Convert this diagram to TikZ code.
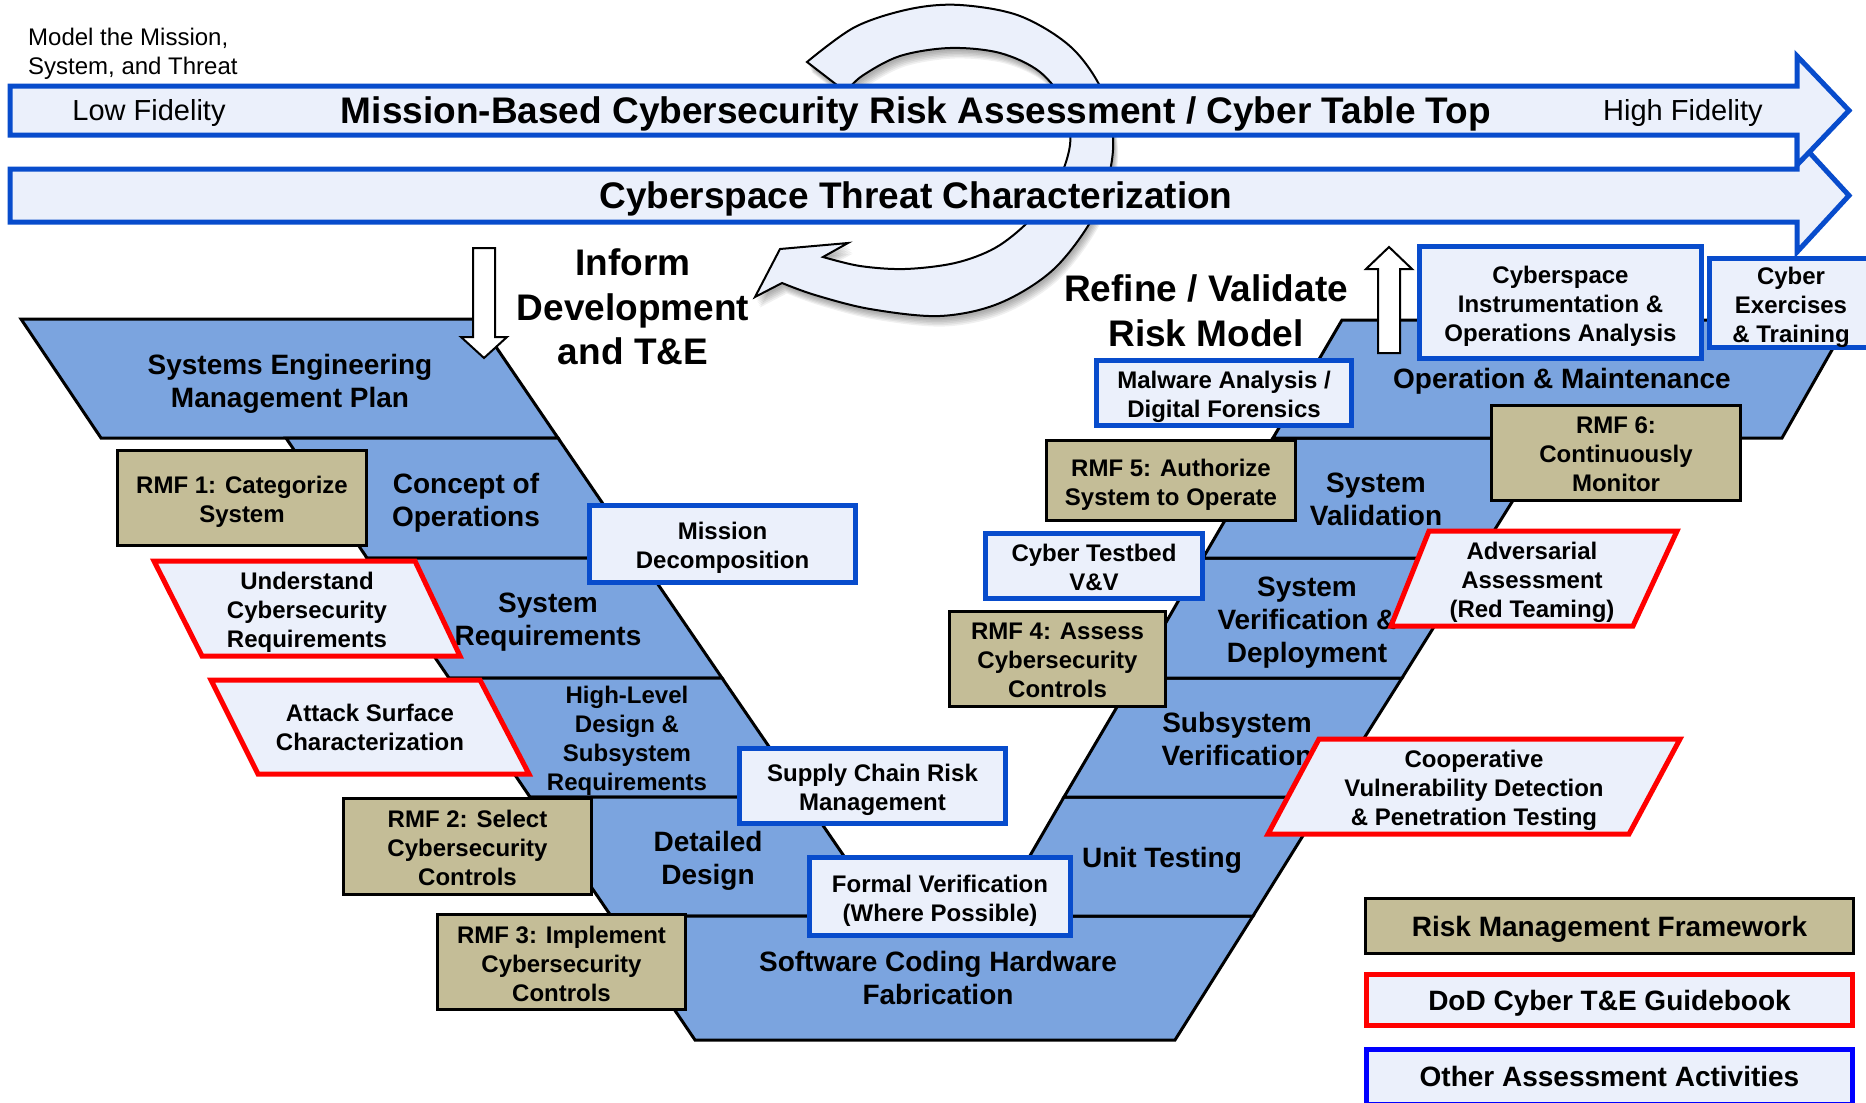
\documentclass[tikz,border=0pt]{standalone}
\usepackage{fontspec}
\setmainfont{Liberation Sans}
\newcommand\fsz[2]{\fontsize{#1}{#2}\selectfont}
\definecolor{layerblue}{RGB}{123,164,223}
\definecolor{boxfill}{RGB}{235,240,251}
\definecolor{bluebd}{RGB}{8,76,204}
\definecolor{tanfill}{RGB}{196,189,151}
\definecolor{redbd}{RGB}{255,0,0}
\definecolor{purebd}{RGB}{0,0,255}
\tikzset{
  layer/.style={fill=layerblue, draw=black, line width=3pt, line join=miter},
  lbl/.style={font=\bfseries\fsz{28}{33}, align=center, inner sep=0pt},
  smalllbl/.style={font=\bfseries\fsz{24}{29}, align=center, inner sep=0pt},
  rmfbox/.style={draw=black, fill=tanfill, line width=3pt, inner sep=0pt},
  bluebox/.style={draw=bluebd, fill=boxfill, line width=5pt, inner sep=0pt},
  redpar/.style={draw=redbd, fill=boxfill, line width=5pt, line join=miter},
  bar/.style={draw=bluebd, fill=boxfill, line width=5pt, line join=miter},
  hollow/.style={draw=black, fill=white, line width=2pt, line join=miter},
  bigtxt/.style={font=\bfseries\fsz{37}{44.5}, align=center, inner sep=0pt},
  bartxt/.style={font=\bfseries\fsz{37}{40}, inner sep=0pt},
  fidtxt/.style={font=\fsz{29}{33}, inner sep=0pt},
  legendbox/.style={line width=5pt, fill=boxfill, inner sep=0pt, minimum width=486pt},
  legendtxt/.style={font=\bfseries\fsz{28}{33}, inner sep=0pt},
  intext/.style={smalllbl, yshift=-4pt},
  intextflat/.style={smalllbl, yshift=-1.5pt},
}
% the circular arrow that loops behind the two bars
\newcommand\ringshape[1]{\path[#1] (807,62) -- plot[smooth,tension=0.55] coordinates {(807,62) (855,27) (910,9) (960,5) (1020,16) (1072,48) (1104,95) (1113,150) (1097,210) (1055,268) (1000,303) (940,316) (870,309) (815,295) (782,283)}
  -- (755,297) -- (780,249) -- (848,243) -- (823,257)
  -- plot[smooth,tension=0.55] coordinates {(823,257) (860,266) (905,269) (955,263) (995,248) (1028,222) (1055,188) (1070,145) (1065,105) (1040,72) (1000,53) (950,48) (900,56) (862,76) (846,92)} -- cycle;}
\begin{document}
\begin{tikzpicture}[x=1pt,y=-1pt]
\fill[white] (0,0) rectangle (1866,1103);
\useasboundingbox (0,0) rectangle (1866,1103);
\clip (0,0) rectangle (1866,1103);

% soft shadow and body of the circular arrow
\foreach \d in {2,3,4,5,6,7}{\ringshape{fill=black, opacity=0.06, shift={(\d*0.7,\d*1.5)}}}
\ringshape{fill=boxfill, draw=black, line width=2pt}

% the two long arrows
\path[bar] (10,169) -- (1797,169) -- (1797,139) -- (1849,195.5) -- (1797,252) -- (1797,222) -- (10,222) -- cycle;
\node[bartxt] (threat) at (916,198.5) {Cyberspace Threat Characterization};
\path[bar] (10,86) -- (1797,86) -- (1797,56) -- (1849,110.5) -- (1797,165) -- (1797,135) -- (10,135) -- cycle;
\node[fidtxt] (lowfid) at (149,112.5) {Low Fidelity};
\node[bartxt] (mission) at (916,113.5) {Mission-Based Cybersecurity Risk Assessment / Cyber Table Top};
\node[fidtxt] (highfid) at (1683,113.5) {High Fidelity};

\node[font=\fsz{24}{29.5}, align=left, inner sep=0pt, anchor=west] (model) at (28,54) {Model the Mission,\\System, and Threat};

% left arm of the V
\path[layer] (21,319) -- (477,319) -- (558,438) -- (101,438) -- cycle;
\path[layer] (286,438) -- (558,438) -- (640,558) -- (367,558) -- cycle;
\path[layer] (367,558) -- (640,558) -- (722,678) -- (449,678) -- cycle;
\path[layer] (449,678) -- (722,678) -- (803.5,797) -- (530,797) -- cycle;
\path[layer] (530,797) -- (803.5,797) -- (885,916) -- (611,916) -- cycle;
% bottom of the V
\path[layer] (611,916) -- (1253,916) -- (1175,1040) -- (695,1040) -- cycle;
% right arm of the V
\path[layer] (1064,797) -- (1327,797) -- (1253,916) -- (995,916) -- cycle;
\path[layer] (1134,678) -- (1402,678) -- (1327,797) -- (1064,797) -- cycle;
\path[layer] (1203,558) -- (1477,558) -- (1402,678) -- (1134,678) -- cycle;
\path[layer] (1273,438) -- (1552,438) -- (1477,558) -- (1203,558) -- cycle;
\path[layer] (1342,320) -- (1849,320) -- (1782,438) -- (1273,438) -- cycle;

% phase labels
\node[lbl] (semp) at (290,383.5) {Systems Engineering\\Management Plan};
\node[lbl] (conops) at (466,502.5) {Concept of\\Operations};
\node[lbl] (sysreq) at (548,622.5) {System\\Requirements};
\node[smalllbl] (hld) at (627,741) {High-Level\\Design \&\\Subsystem\\Requirements};
\node[lbl] (detdes) at (708,861) {Detailed\\Design};
\node[lbl] (coding) at (938,978) {Software Coding Hardware\\Fabrication};
\node[lbl] (unit) at (1162,860.5) {Unit Testing};
\node[lbl] (subver) at (1237,738.5) {Subsystem\\Verification};
\node[lbl] (sysver) at (1307,622.5) {System\\Verification \&\\Deployment};
\node[lbl] (sysval) at (1376,499.5) {System\\Validation};
\node[lbl] (om) at (1562,381.5) {Operation \& Maintenance};

% hollow arrows
\path[hollow] (473,248) -- (495,248) -- (495,337) -- (507,337) -- (484,358) -- (461,337) -- (473,337) -- cycle;
\path[hollow] (1378,353) -- (1378,269) -- (1366,269) -- (1389,247) -- (1412,269) -- (1400,269) -- (1400,353) -- cycle;

\node[bigtxt] (inform) at (633,307) {Inform\\Development\\and T\&E};
\node[bigtxt] (refine) at (1206,311) {Refine / Validate\\Risk Model};

% Risk Management Framework steps
\node[rmfbox, minimum width=249pt, minimum height=95pt] (rmf1) at (242,498) {};
\node[intext] (rmf1t) at (rmf1.center) {RMF 1: Categorize\\System};
\node[rmfbox, minimum width=248pt, minimum height=96pt] (rmf2) at (467.5,846.5) {};
\node[intextflat] (rmf2t) at (rmf2.center) {RMF 2: Select\\Cybersecurity\\Controls};
\node[rmfbox, minimum width=248pt, minimum height=95pt] (rmf3) at (561.5,962) {};
\node[intextflat] (rmf3t) at (rmf3.center) {RMF 3: Implement\\Cybersecurity\\Controls};
\node[rmfbox, minimum width=216pt, minimum height=95pt] (rmf4) at (1057.5,659) {};
\node[intextflat] (rmf4t) at (rmf4.center) {RMF 4: Assess\\Cybersecurity\\Controls};
\node[rmfbox, minimum width=249pt, minimum height=80pt] (rmf5) at (1171,480.5) {};
\node[intext] (rmf5t) at (rmf5.center) {RMF 5: Authorize\\System to Operate};
\node[rmfbox, minimum width=249pt, minimum height=95pt] (rmf6) at (1616,453) {};
\node[intextflat] (rmf6t) at (rmf6.center) {RMF 6:\\Continuously\\Monitor};

% other assessment activities
\node[bluebox, minimum width=266pt, minimum height=77pt] (missdec) at (722.5,544) {};
\node[intext] (missdect) at (missdec.center) {Mission\\Decomposition};
\node[bluebox, minimum width=266pt, minimum height=75pt] (supply) at (872.5,786) {};
\node[intext] (supplyt) at (supply.center) {Supply Chain Risk\\Management};
\node[bluebox, minimum width=261pt, minimum height=78pt] (formal) at (940,896.5) {};
\node[intext] (formalt) at (formal.center) {Formal Verification\\(Where Possible)};
\node[bluebox, minimum width=217pt, minimum height=65pt] (testbed) at (1094,566) {};
\node[intextflat] (testbedt) at (testbed.center) {Cyber Testbed\\V\&V};
\node[bluebox, minimum width=255pt, minimum height=65pt] (malware) at (1224,393) {};
\node[intext] (malwaret) at (malware.center) {Malware Analysis /\\Digital Forensics};
\node[bluebox, minimum width=282pt, minimum height=112pt] (instr) at (1560.5,302.5) {};
\node[intext] (instrt) at (instr.center) {Cyberspace\\Instrumentation \&\\Operations Analysis};
\node[bluebox, minimum width=163pt, minimum height=89pt] (exer) at (1791,303) {};
\node[intext] (exert) at (exer.center) {Cyber\\Exercises\\\& Training};

% DoD Cyber T&E Guidebook activities
\path[redpar] (154,561) -- (415,561) -- (460,656) -- (202,656) -- cycle;
\node[smalllbl] (understand) at (307,612.5) {Understand\\Cybersecurity\\Requirements};
\path[redpar] (211,680) -- (480,680) -- (529,774) -- (258,774) -- cycle;
\node[smalllbl] (attack) at (370,727.5) {Attack Surface\\Characterization};
\path[redpar] (1429,531) -- (1677,531) -- (1633,626) -- (1391,626) -- cycle;
\node[smalllbl] (advers) at (1532,582.5) {Adversarial\\Assessment\\(Red Teaming)};
\path[redpar] (1319,739) -- (1680,739) -- (1629,834) -- (1268,834) -- cycle;
\node[smalllbl] (coop) at (1474,790.5) {Cooperative\\Vulnerability Detection\\\& Penetration Testing};

% legend
\node[legendbox, draw=black, fill=tanfill, line width=3pt, minimum width=488pt, minimum height=55pt] (legrmf) at (1609.5,926) {};
\node[legendtxt] (legrmft) at (1609.5,929.5) {Risk Management Framework};
\node[legendbox, draw=redbd, minimum height=51pt] (legdod) at (1609.5,1000) {};
\node[legendtxt] (legdodt) at (1609.5,1003.5) {DoD Cyber T\&E Guidebook};
\node[legendbox, draw=purebd, minimum height=55pt] (legother) at (1609.5,1077) {};
\node[legendtxt] (legothert) at (1609.5,1076.5) {Other Assessment Activities};
\end{tikzpicture}
\end{document}
